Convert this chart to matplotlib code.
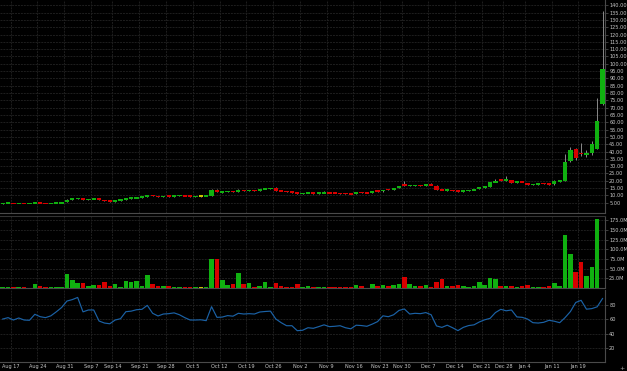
"""
GME daily candles with volume and RSI panels, dark theme
"""
import matplotlib
matplotlib.use("Agg")
import matplotlib.pyplot as plt
import numpy as np

# daily bars, Aug 13 2020 .. Jan 25 2021
opens = [4.45, 4.55, 4.65, 4.50, 4.60, 4.52, 4.58, 4.75, 4.55, 4.50,
         4.58, 4.80, 5.50, 7.00, 7.70, 8.00, 7.00, 7.40, 7.80, 7.00,
         6.20, 5.90, 6.50, 6.80, 7.90, 8.20, 8.50, 9.10, 10.20, 9.50,
         9.20, 9.70, 9.30, 9.70, 9.90, 9.60, 9.30, 9.40, 9.40, 9.50,
         13.90, 12.00, 12.30, 12.90, 12.40, 13.70, 13.10, 13.50, 13.40, 14.30,
         14.70, 14.80, 13.30, 12.90, 12.40, 12.10, 11.20, 11.40, 11.80, 11.30,
         11.70, 11.90, 11.50, 11.50, 11.30, 11.10, 11.10, 12.00, 11.70, 11.60,
         13.10, 12.70, 14.10, 13.80, 14.90, 17.30, 16.50, 16.60, 16.90, 16.60,
         17.30, 16.70, 14.00, 13.40, 13.70, 13.20, 12.60, 13.10, 13.50, 14.30,
         15.60, 15.80, 19.10, 20.60, 20.30, 20.50, 18.60, 19.30, 18.50, 17.20,
         17.50, 18.40, 18.00, 17.60, 19.80, 19.80, 33.30, 41.70, 39.00, 37.60,
         39.00, 41.90, 72.30]
highs = [4.62, 4.70, 4.72, 4.62, 4.65, 4.62, 5.00, 4.80, 4.62, 4.62,
         4.85, 5.15, 7.40, 8.00, 8.30, 8.10, 7.60, 7.90, 7.90, 7.10,
         6.30, 6.60, 6.90, 8.00, 8.30, 8.60, 9.20, 10.40, 10.30, 9.70,
         9.60, 9.90, 9.80, 10.10, 10.00, 9.70, 9.50, 9.55, 9.60, 14.20,
         14.50, 12.80, 12.90, 13.00, 14.20, 13.80, 13.60, 13.70, 14.50, 14.90,
         15.30, 15.40, 13.50, 13.00, 12.60, 12.20, 11.80, 11.90, 11.90, 11.80,
         12.80, 12.00, 11.70, 11.60, 11.50, 11.30, 12.00, 12.10, 11.90, 12.90,
         13.40, 14.00, 14.30, 15.10, 16.70, 19.50, 17.20, 17.00, 17.10, 17.40,
         18.40, 16.90, 14.30, 13.90, 13.80, 13.30, 13.30, 13.60, 14.40, 15.80,
         15.90, 19.40, 21.40, 20.90, 23.50, 20.80, 19.50, 19.60, 18.70, 17.70,
         18.30, 18.60, 18.10, 20.60, 20.40, 38.30, 43.10, 42.60, 45.60, 41.20,
         47.00, 76.40, 136.00]
lows = [4.40, 4.48, 4.45, 4.45, 4.45, 4.48, 4.55, 4.50, 4.45, 4.45,
        4.55, 4.75, 5.40, 6.80, 7.50, 6.80, 6.90, 7.20, 6.90, 6.10,
        5.80, 5.80, 6.40, 6.70, 7.80, 8.00, 8.40, 9.00, 9.40, 9.10,
        9.10, 9.20, 9.20, 9.60, 9.50, 9.20, 9.10, 9.10, 9.30, 9.40,
        12.30, 11.60, 12.10, 12.40, 12.30, 12.90, 12.90, 13.20, 13.30, 14.10,
        14.50, 13.10, 12.80, 12.30, 11.90, 11.00, 11.10, 11.30, 11.20, 11.20,
        11.60, 11.40, 11.30, 11.20, 11.00, 10.80, 11.00, 11.60, 11.50, 11.50,
        12.60, 12.60, 13.60, 13.70, 14.80, 16.50, 16.30, 16.30, 16.40, 16.50,
        16.80, 13.60, 13.40, 13.30, 13.10, 12.40, 12.50, 13.00, 13.40, 14.20,
        15.30, 15.60, 18.90, 19.80, 20.10, 18.40, 18.50, 18.90, 17.10, 17.10,
        17.30, 17.90, 17.10, 17.40, 19.30, 19.50, 33.00, 34.00, 37.00, 36.50,
        37.40, 41.50, 71.90]
closes = [4.58, 4.62, 4.50, 4.58, 4.52, 4.58, 4.75, 4.55, 4.50, 4.58,
          4.80, 5.05, 7.00, 7.70, 8.00, 7.00, 7.40, 7.60, 7.00, 6.20,
          5.90, 6.50, 6.80, 7.90, 8.20, 8.50, 9.10, 10.20, 9.50, 9.20,
          9.50, 9.30, 9.70, 9.90, 9.60, 9.30, 9.40, 9.40, 9.50, 13.70,
          12.40, 12.30, 12.80, 12.60, 13.70, 13.10, 13.50, 13.30, 14.30, 14.70,
          14.90, 13.30, 12.90, 12.40, 12.10, 11.20, 11.60, 11.80, 11.30, 11.70,
          11.90, 11.50, 11.40, 11.30, 11.10, 11.00, 11.90, 11.70, 11.60, 12.80,
          12.70, 13.90, 13.80, 14.90, 16.50, 16.80, 16.90, 16.80, 16.60, 17.20,
          16.90, 13.90, 13.60, 13.70, 13.20, 12.60, 13.10, 13.50, 14.20, 15.60,
          15.80, 19.10, 19.60, 20.30, 20.80, 18.60, 19.30, 19.00, 17.20, 17.50,
          18.20, 18.00, 17.30, 19.80, 20.00, 32.80, 41.20, 35.80, 38.20, 38.80,
          45.30, 60.70, 96.20]
volumes = [2, 2.5, 1.5, 1.5, 1.5, 1, 10, 4.5, 2, 1.5,
           2, 3, 36, 20.7, 12, 13, 6, 7.5, 7.5, 14.6,
           4.5, 10, 3, 19, 16, 17.6, 6, 33.6, 10, 6,
           5, 6, 3, 3, 3, 3, 1.5, 3, 1.5, 74,
           74, 20.7, 7.5, 10, 38, 10, 12, 3, 4.5, 14.6,
           3, 12, 4.5, 3, 3, 10, 3, 6, 3, 3,
           3, 3, 2, 3, 3, 2, 8, 4.5, 1, 10,
           6, 8, 4.5, 7.5, 11, 29, 10, 6, 4, 7,
           3, 15.5, 22.5, 4, 4.5, 7.5, 6, 3, 4.5, 15.5,
           7.5, 26.6, 23, 4, 6, 6, 3, 4.5, 7.5, 3,
           3, 3, 4, 13, 4.5, 136, 87, 42, 68, 30,
           53, 177, 0]  # millions
rsi = [60, 62, 58.7, 61.5, 58.7, 58.3, 66.6, 63.3, 62, 64.5,
       70, 76, 85, 87, 90, 70, 72.6, 72.6, 57.3, 54.5,
       53.5, 58.7, 60.5, 70.2, 71, 73, 73.5, 79, 68, 64.3,
       67, 67.5, 68.6, 66, 62, 58.7, 58.7, 59, 57.8, 77.2,
       62.4, 62.8, 64.8, 64, 68, 67, 67.5, 67, 69.8, 70.5,
       71, 60.1, 55, 50.8, 50.8, 43.9, 44.5, 48, 47.2, 49.5,
       52, 49.5, 50, 50.8, 48, 46.5, 51.5, 51, 50, 53,
       56.5, 64.5, 63.3, 66, 72, 74, 67, 68, 67.5, 69,
       66, 50.5, 48.5, 51.5, 48, 44, 48.5, 51, 52, 56,
       59, 61, 69, 73.5, 71.5, 72.6, 63, 62.4, 60, 55,
       54.5, 55.5, 58.3, 57, 55, 62, 70.4, 83, 86, 73.7,
       74.5, 77, 88.5]

week_starts = [2, 7, 12, 17, 21, 26, 31, 36, 41, 46, 51, 56, 61, 66, 71,
               75, 80, 85, 90, 94, 98, 103, 108]
week_labels = ["Aug 17", "Aug 24", "Aug 31", "Sep 7", "Sep 14", "Sep 21",
               "Sep 28", "Oct 5", "Oct 12", "Oct 19", "Oct 26", "Nov 2",
               "Nov 9", "Nov 16", "Nov 23", "Nov 30", "Dec 7", "Dec 14",
               "Dec 21", "Dec 28", "Jan 4", "Jan 11", "Jan 19"]

UP, DOWN, FLAT = "#10b010", "#d80000", "#c8c400"
GRID = "#1e1e1e"
SPINE = "#4a4a4a"
TXT = "#c8c8c8"

o = np.array(opens)
c = np.array(closes)
x = np.arange(len(o))
cols = np.where(c > o, UP, np.where(c < o, DOWN, FLAT))

W, H = 627, 371
fig = plt.figure(figsize=(W / 100, H / 100), dpi=100, facecolor="black")
right = 605 / W


def panel(top_px, bot_px):
    ax = fig.add_axes([0, 1 - bot_px / H, right, (bot_px - top_px) / H])
    ax.set_facecolor("black")
    for s in ("left", "top"):
        ax.spines[s].set_visible(False)
    for s in ("right", "bottom"):
        ax.spines[s].set_color(SPINE)
        ax.spines[s].set_linewidth(0.8)
    ax.yaxis.tick_right()
    ax.tick_params(axis="y", colors=SPINE, labelcolor=TXT, labelsize=3.6,
                   length=2, width=0.6, pad=1)
    ax.set_xlim(-0.5, 112.46)
    ax.set_xticks(np.array(week_starts) - 0.5)
    ax.tick_params(axis="x", length=0, labelbottom=False)
    ax.grid(True, color=GRID, lw=0.7, ls=(0, (2, 1)))
    ax.set_axisbelow(True)
    return ax


# price
axp = panel(0, 213)
bot = np.minimum(o, c)
hgt = np.abs(c - o)
small = hgt < 1.1
bot = np.where(small, (o + c) / 2 - 0.55, bot)
hgt = np.where(small, 1.1, hgt)
axp.vlines(x, lows, highs, color="#8a8a8a", lw=0.7, zorder=2)
axp.bar(x, hgt, bottom=bot, width=0.8, color=cols, zorder=3)
axp.set_ylim(-2.05, 143.6)
pt = np.arange(5, 141, 5)
axp.set_yticks(pt)
axp.set_yticklabels([f"{v:.2f}" for v in pt])

# volume
axv = panel(216, 288)
axv.spines["top"].set_visible(True)
axv.spines["top"].set_color("#333333")
axv.bar(x, volumes, width=0.85, color=cols, zorder=3)
axv.set_ylim(0, 186)
vt = np.arange(25, 176, 25)
axv.set_yticks(vt)
axv.set_yticklabels([f"{v:.1f}M" for v in vt])

# rsi
axr = panel(290, 362)
axr.plot(x, rsi, color="#1b62a6", lw=0.85, zorder=3)
axr.set_ylim(0.5, 100.3)
axr.set_yticks([20, 40, 60, 80])
axr.set_yticklabels(["20", "40", "60", "80"])
axr.tick_params(axis="x", labelbottom=True, labelcolor=TXT, labelsize=3.6,
                pad=1.5)
axr.set_xticklabels(week_labels)

fig.text(622 / W, 1 - 369 / H, "+", color="#aaaaaa", fontsize=4.5,
         ha="center", va="center")

plt.savefig("out.png", dpi=100, facecolor="black")
plt.close()
